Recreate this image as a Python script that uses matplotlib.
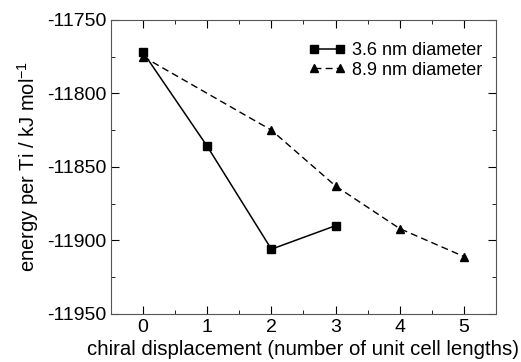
import matplotlib
matplotlib.use("Agg")
import matplotlib.pyplot as plt
from matplotlib.ticker import MultipleLocator

plt.rcParams['font.family'] = ['Liberation Sans', 'DejaVu Sans']
plt.rcParams['axes.unicode_minus'] = False
plt.rcParams['mathtext.default'] = 'regular'

# data
x_small = [0, 1, 2, 3]
e_small = [-11772, -11836, -11906, -11890]
x_large = [0, 2, 3, 4, 5]
e_large = [-11775, -11825, -11863, -11892, -11911]

fig = plt.figure(figsize=(5.21, 3.62), dpi=100)
ax = fig.add_axes([0.213, 0.133, 0.739, 0.812])

ax.plot(x_small, e_small, '-s', color='black', lw=1.1, ms=5.5,
        label='3.6 nm diameter')
ax.plot(x_large, e_large, '--^', color='black', lw=1.0, ms=6,
        dashes=(5, 3), label='8.9 nm diameter')

ax.set_xlim(-0.5, 5.5)
ax.set_ylim(-11950, -11750)
ax.xaxis.set_major_locator(MultipleLocator(1))
ax.xaxis.set_minor_locator(MultipleLocator(0.5))
ax.yaxis.set_major_locator(MultipleLocator(50))
ax.yaxis.set_minor_locator(MultipleLocator(25))
ax.tick_params(which='both', direction='in', top=True, right=True, labelsize=14)
ax.tick_params(which='major', length=6)
ax.tick_params(which='minor', length=3)
for s in ax.spines.values():
    s.set_color('#555555')

ax.set_xlabel('chiral displacement (number of unit cell lengths)', fontsize=14.7,
              labelpad=3)
ax.set_ylabel('energy per Ti / kJ mol$^{-1}$', fontsize=14.5)

ax.legend(loc='upper right', bbox_to_anchor=(0.984, 0.95), borderaxespad=0,
          frameon=False, fontsize=13, numpoints=2,
          handlelength=2.0, handletextpad=0.4, labelspacing=0.15)

fig.savefig('out.png', dpi=100)
